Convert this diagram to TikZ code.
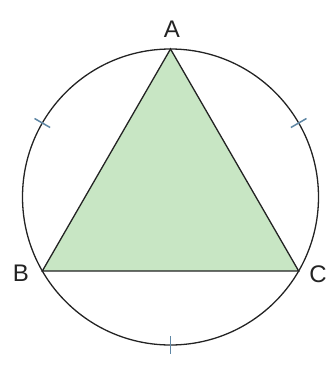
\documentclass[tikz,border=0pt]{standalone}
\usepackage{fontspec}
\setmainfont{Liberation Sans}
\definecolor{trifill}{RGB}{200,230,196}
\definecolor{tickcol}{RGB}{95,135,165}
\definecolor{linecol}{RGB}{35,35,35}
\begin{document}
\begin{tikzpicture}[x=1pt,y=-1pt,
  edge/.style={draw=linecol,line width=1.3pt},
  tickmark/.style={draw=tickcol,line width=1.5pt},
  lbl/.style={font=\fontsize{24}{26}\selectfont,text=linecol,inner sep=0pt}]
\useasboundingbox (0,0) rectangle (334,367);
\coordinate (O) at (170.5,197);
% y axis points down, so polar angles are mirrored
\path (O) ++(270:148) coordinate (A)
      (O) ++(150:148) coordinate (B)
      (O) ++(30:148) coordinate (C);
\fill[trifill] (A) -- (B) -- (C) -- cycle;
\draw[edge] (A) -- (B) -- (C) -- cycle;
\draw[edge] (O) circle[radius=148];
\foreach \ang/\nm in {210/tl,330/tr,90/bt}{
  \path (O) ++(\ang:139) coordinate (\nm1) (O) ++(\ang:157) coordinate (\nm2);
  \draw[tickmark] (\nm1) -- (\nm2);
}
\node[lbl] (la) at (172,29) {A};
\node[lbl] (lb) at (21,273) {B};
\node[lbl] (lc) at (318,274) {C};
\end{tikzpicture}
\end{document}
